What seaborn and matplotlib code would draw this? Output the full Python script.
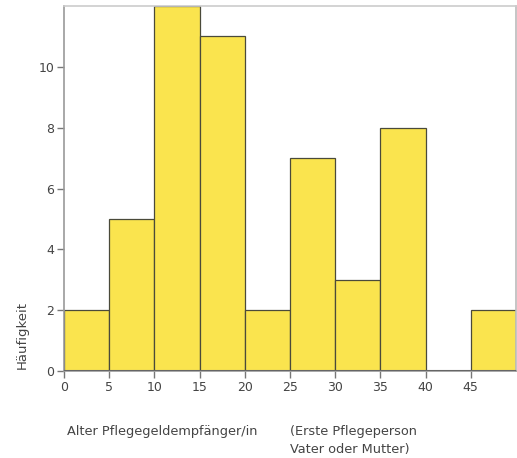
import matplotlib
matplotlib.use("Agg")
import matplotlib.pyplot as plt
import seaborn as sns
import numpy as np

bin_edges = [0, 5, 10, 15, 20, 25, 30, 35, 40, 45, 50]
counts = [2, 5, 12, 11, 2, 7, 3, 8, 0, 2]
x_ticks = [0, 5, 10, 15, 20, 25, 30, 35, 40, 45]
y_ticks = [0, 2, 4, 6, 8, 10]
xlabel_main = "Alter Pflegegeldempfänger/in"
xlabel_extra = "(Erste Pflegeperson\nVater oder Mutter)"
ylabel = "Häufigkeit"

sns.set_style("white")
plt.rcParams['font.family'] = ['DejaVu Sans']

fig = plt.figure(figsize=(5.17, 4.58), dpi=100)
ax = fig.add_axes([64/517, 1-371/458, (516-64)/517, (371-6)/458])

mids = [(bin_edges[i] + bin_edges[i+1]) / 2 for i in range(len(counts))]
sns.histplot(x=mids, weights=counts, bins=bin_edges, ax=ax,
             color="#FAE44E", alpha=1, edgecolor="#4a4a3a", linewidth=0.9)

ax.set_xlim(0, 50)
ax.set_ylim(0, 12)
ax.set_xticks(x_ticks)
ax.set_yticks(y_ticks)
ax.set_xlabel("")
ax.set_ylabel("")
ax.tick_params(axis='both', direction='out', length=5, width=1, color="#777777",
               labelcolor="#444444", labelsize=9, pad=2, bottom=True, left=True)
for side, sp in ax.spines.items():
    sp.set_visible(True)
    sp.set_color("#999999")
    sp.set_linewidth(1.2)
ax.spines['top'].set_color("#cccccc")
ax.spines['right'].set_color("#bbbbbb")
ax.axhline(0, color="#666666", lw=1.5, zorder=5)

fig.text(67/517, 1-425/458, xlabel_main, fontsize=9.3, color="#444444", va='top', ha='left')
fig.text(290/517, 1-425/458, xlabel_extra, fontsize=9.3, color="#444444", va='top', ha='left',
         linespacing=1.5)
fig.text(22/517, 1-335/458, ylabel, fontsize=9.5, color="#444444", rotation=90, va='center', ha='center')

fig.savefig("out.png", dpi=100)
